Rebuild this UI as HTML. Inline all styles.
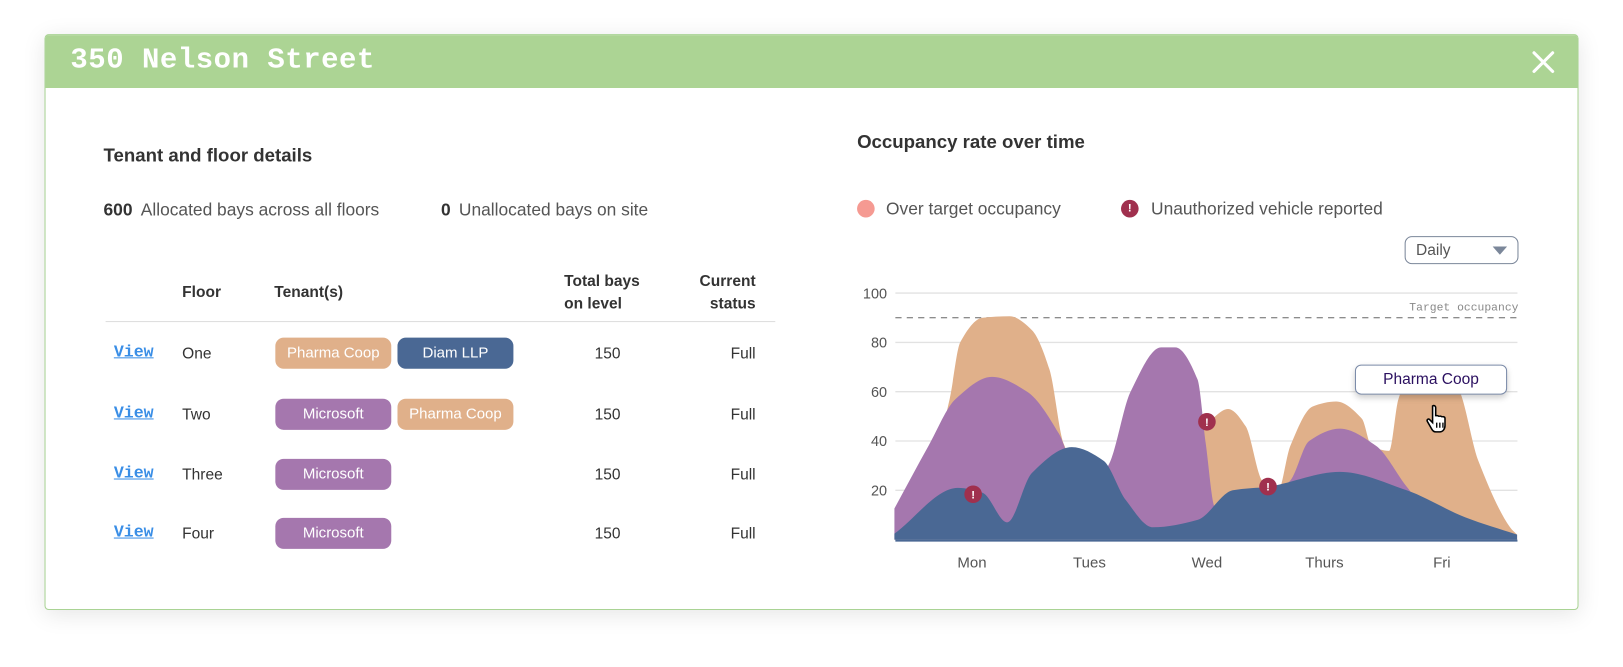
<!DOCTYPE html>
<html><head><meta charset="utf-8">
<style>
html,body{margin:0;padding:0;background:#fff;width:1623px;height:667px;overflow:hidden}
#wrap{position:absolute;left:0;top:0;width:1568px;height:644px;transform:scale(1.0351,1.0357);transform-origin:0 0;font-family:"Liberation Sans",sans-serif;color:#333}
.abs{position:absolute}
#card{left:43px;top:33px;width:1480px;height:554px;border:1px solid #a9d394;border-radius:4px;background:#fff;box-shadow:0 4px 22px rgba(0,0,0,0.10)}
#hdr{left:0;top:0;width:1480px;height:51px;background:#acd494;border-radius:3px 3px 0 0}
.title{left:24px;top:9px;font-family:"Liberation Mono",monospace;font-size:28px;color:#fff;letter-spacing:0.5px;font-weight:bold}
.h2{font-weight:bold;font-size:18px;color:#333}
.stat{font-size:16.8px;color:#555}
.stat b{color:#333;margin-right:8px}
.th{font-size:15px;font-weight:bold;color:#333;line-height:22px}
.cell{font-size:15px;color:#333}
.view{font-family:"Liberation Mono",monospace;font-weight:bold;font-size:16px;color:#3a8ee6;text-decoration:underline}
.pill{width:112px;height:30px;border-radius:8px;color:#fff;font-size:14.5px;line-height:30px;text-align:center}
.pc{background:#e0b08a}.dl{background:#4a6894}.ms{background:#a577ae}
</style></head><body>
<div id="wrap">
<div id="card" class="abs">
 <div id="hdr" class="abs">
  <div class="abs title">350 Nelson Street</div>
  <svg class="abs" style="left:1436px;top:15px" width="22" height="22"><path d="M2 2L20 20M20 2L2 20" stroke="#fff" stroke-width="3" stroke-linecap="round"/></svg>
 </div>
</div>

<div class="abs h2" style="left:100px;top:140px">Tenant and floor details</div>
<div class="abs stat" style="left:100px;top:193px"><b>600</b>Allocated bays across all floors</div>
<div class="abs stat" style="left:426px;top:193px"><b>0</b>Unallocated bays on site</div>

<div class="abs th" style="left:176px;top:272px">Floor</div>
<div class="abs th" style="left:265px;top:272px">Tenant(s)</div>
<div class="abs th" style="left:545px;top:261px">Total bays<br>on level</div>
<div class="abs th" style="left:650px;top:261px;width:80px;text-align:right">Current<br>status</div>
<div class="abs" style="left:102px;top:310px;width:647px;height:1px;background:#ddd"></div>

<div id="rows"></div>

<div class="abs h2" style="left:828px;top:127px">Occupancy rate over time</div>
<div class="abs" style="left:828px;top:193px;width:17px;height:17px;border-radius:50%;background:#f59a92"></div>
<div class="abs stat" style="left:856px;top:192px">Over target occupancy</div>
<div class="abs" style="left:1083px;top:193px;width:17px;height:17px;border-radius:50%;background:#a0304e;color:#fff;font-size:11px;font-weight:bold;text-align:center;line-height:17px">!</div>
<div class="abs stat" style="left:1112px;top:192px">Unauthorized vehicle reported</div>

<div class="abs" style="left:1357px;top:228px;width:108px;height:25px;border:1px solid #7b879a;border-radius:7px">
 <span class="abs" style="left:10px;top:4px;font-size:15px;color:#555">Daily</span>
 <svg class="abs" style="left:84px;top:9px" width="14" height="8"><path d="M0 0H14L7 8Z" fill="#7b879a"/></svg>
</div>

<svg id="chart" class="abs" style="left:0;top:0" width="1568" height="644"></svg>

<div class="abs" style="left:1309px;top:352px;width:145px;height:27px;border:1px solid #7a8aa8;border-radius:6px;background:#fff;box-shadow:0 3px 6px rgba(0,0,0,0.2);text-align:center;line-height:27px;font-size:15px;color:#2b1060">Pharma Coop</div>
<svg class="abs" style="left:1377px;top:390px" width="24" height="30"><path d="M7 2c1.5-1 3 0 3 1.5V12c0-1 3-1 3 0.5c0-1 3-1 3 0.5c0-1 3-1 3 1V21c0 3-2 6-5 6H10c-2 0-3-1-4-3L2 17c-1-2 1-3 2-2l3 3V3.5C7 2.8 7 2.3 7 2z" fill="#fff" stroke="#000" stroke-width="1.5"/><path d="M11 18v5M14 18v5M17 18v5" stroke="#000" stroke-width="1.3"/></svg>
</div>

<script>
const rowFloors=["One","Two","Three","Four"];
const rowTenants=[["Pharma Coop","Diam LLP"],["Microsoft","Pharma Coop"],["Microsoft"],["Microsoft"]];
const rowBays=[150,150,150,150];
const rowStatus=["Full","Full","Full","Full"];
const pillCls={"Pharma Coop":"pc","Diam LLP":"dl","Microsoft":"ms"};
const rowY=[342,401,459,516];
const rows=document.getElementById('rows');
rowFloors.forEach((f,i)=>{
 const y=rowY[i];
 let h='';
 h+=`<div class="abs view" style="left:110px;top:${y-11}px">View</div>`;
 h+=`<div class="abs cell" style="left:176px;top:${y-9}px">${f}</div>`;
 rowTenants[i].forEach((t,j)=>{
  h+=`<div class="abs pill ${pillCls[t]}" style="left:${266+j*118}px;top:${y-16}px">${t}</div>`;
 });
 h+=`<div class="abs cell" style="left:560px;width:54px;text-align:center;top:${y-9}px">${rowBays[i]}</div>`;
 h+=`<div class="abs cell" style="left:660px;width:70px;text-align:right;top:${y-9}px">${rowStatus[i]}</div>`;
 rows.insertAdjacentHTML('beforeend',h);
});

// chart data (x in day units: Mon=0 ... Fri=4; y = occupancy %)
const days=["Mon","Tues","Wed","Thurs","Fri"];
const yTicks=[20,40,60,80,100];
const target=90;
const pharmaX=[-0.66,-0.4,-0.19,-0.1,0.09,0.32,0.51,0.66,0.78,1.1,1.6,1.85,1.99,2.18,2.33,2.47,2.6,2.71,2.9,3.1,3.32,3.4,3.55,3.63,3.7,4.12,4.31,4.58,4.64];
const pharmaY=[0,20,57,80,90,90.6,85,69,39,15,30,44,47,53,46,24,19,38,54,56,49,38,36,57,64,62,32,5,2];
const msX=[-0.66,-0.37,-0.14,0.17,0.47,0.74,0.95,1.16,1.35,1.61,1.73,1.92,1.99,2.07,2.3,2.71,2.87,3.13,3.44,3.7,4.0,4.64];
const msY=[12.6,38,57,66,60,43,20,30,60,78,78,65,39,13,10,24,40,45,38,21.5,5,0];
const diamX=[-0.66,-0.12,0.09,0.3,0.51,0.85,1.12,1.31,1.54,1.92,2.22,2.52,3.13,3.7,4.2,4.64];
const diamY=[2.4,21,19,7,27,37.5,32,16,5,8,20,21.5,27.5,20,9,2];
const alertX=[0.01,2.0,2.52];
const alertY=[18.4,47.8,21.5];

const X0=865,X1=1466;
const xs=u=>939+u*113.5;
const ys=v=>521-v*2.38;
const svg=document.getElementById('chart');
const NS='http://www.w3.org/2000/svg';
function mk(tag,attrs){const e=document.createElementNS(NS,tag);for(const k in attrs)e.setAttribute(k,attrs[k]);svg.appendChild(e);return e;}

yTicks.forEach(t=>{
 const l=mk('line',{x1:X0,x2:X1,y1:ys(t),y2:ys(t),stroke:'#e2e2e2','stroke-width':1.3});
 
 
 const tx=mk('text',{x:857,y:ys(t)+5,'text-anchor':'end','font-size':14,fill:'#555','font-family':'Liberation Sans, sans-serif'});
 tx.textContent=t;
 
 
});
const tl=mk('line',{x1:X0,x2:X1,y1:ys(target),y2:ys(target),stroke:'#666','stroke-width':1,'stroke-dasharray':'6 5'});


const tt=mk('text',{x:X1+1,y:ys(target)-7,'text-anchor':'end','font-size':11,fill:'#888','font-family':'Liberation Mono, monospace'});
tt.textContent='Target occupancy';



function monotone(px,py){
 const n=px.length,d=[],m=[];
 for(let i=0;i<n-1;i++)d.push((py[i+1]-py[i])/(px[i+1]-px[i]));
 m[0]=d[0];m[n-1]=d[n-2];
 for(let i=1;i<n-1;i++){
  const a=d[i-1],b=d[i];
  m[i]=(a*b<=0)?0:2*a*b/(a+b);
 }
 let s=`M${px[0]},${py[0]}`;
 for(let i=0;i<n-1;i++){const h=px[i+1]-px[i];
  s+=` C${px[i]+h/3},${py[i]+m[i]*h/3} ${px[i+1]-h/3},${py[i+1]-m[i+1]*h/3} ${px[i+1]},${py[i+1]}`;}
 return s;
}
function area(xa,ya,color,name){
 const px=xa.map(xs),py=ya.map(ys);
 const d=monotone(px,py)+` L${px[px.length-1]},${ys(0)} L${px[0]},${ys(0)} Z`;
 const p=mk('path',{d:d,fill:color});
 
 
}
area(pharmaX,pharmaY,'#e0b08a','pharma-coop-area');
area(msX,msY,'#a577ae','microsoft-area');
area(diamX,diamY,'#4a6894','diam-llp-area');
const bl=mk('line',{x1:X0,x2:X1,y1:ys(0)+1,y2:ys(0)+1,stroke:'#4a6894','stroke-width':2});



days.forEach((dname,i)=>{
 const t=mk('text',{x:xs(i),y:548,'text-anchor':'middle','font-size':14.5,fill:'#555','font-family':'Liberation Sans, sans-serif'});
 t.textContent=dname;
 
 
});
alertX.forEach((ax,i)=>{
 const c=mk('circle',{cx:xs(ax),cy:ys(alertY[i]),r:8.5,fill:'#a0304e'});
 
 
 const t=mk('text',{x:xs(ax),y:ys(alertY[i])+4,'text-anchor':'middle','font-size':11,'font-weight':'bold',fill:'#fff','font-family':'Liberation Sans, sans-serif'});
 t.textContent='!';
 
 
});
</script>
</body></html>
